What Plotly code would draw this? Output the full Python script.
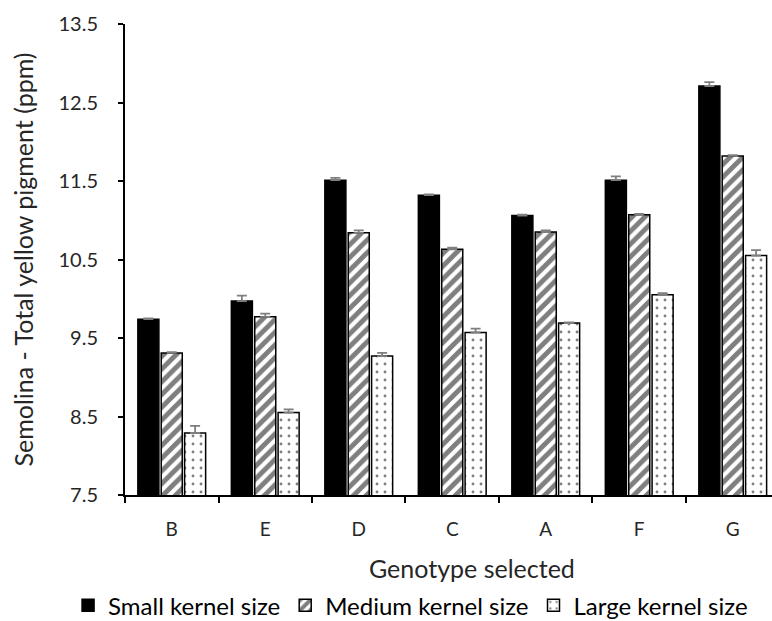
import plotly.graph_objects as go

genotypes = ["B", "E", "D", "C", "A", "F", "G"]
small = [9.74, 9.97, 11.51, 11.32, 11.06, 11.51, 12.71]
small_err = [0.01, 0.07, 0.03, 0.01, 0.01, 0.05, 0.05]
medium = [9.31, 9.77, 10.84, 10.63, 10.85, 11.07, 11.82]
medium_err = [0.01, 0.04, 0.03, 0.02, 0.02, 0.01, 0.01]
large = [8.29, 8.55, 9.27, 9.57, 9.69, 10.05, 10.55]
large_err = [0.09, 0.04, 0.04, 0.05, 0.01, 0.02, 0.07]
series_names = ["Small kernel size", "Medium kernel size", "Large kernel size"]
y_ticks = [7.5, 8.5, 9.5, 10.5, 11.5, 12.5, 13.5]
y_tick_text = ["7.5", "8.5", "9.5", "10.5", "11.5", "12.5", "13.5"]
x_title = "Genotype selected"
y_title = "Semolina - Total yellow pigment (ppm)"

FONT = "Lato, Open Sans, sans-serif"
err_style = dict(color="#7f7f7f", thickness=1.8, width=5)

fig = go.Figure()
fig.add_trace(go.Bar(
    x=genotypes, y=small, name=series_names[0],
    marker=dict(color="black", line=dict(color="black", width=1.5)),
    error_y=dict(type="data", array=small_err, arrayminus=[0]*len(small), symmetric=False, **err_style),
))
fig.add_trace(go.Bar(
    x=genotypes, y=medium, name=series_names[1],
    marker=dict(color="white", line=dict(color="black", width=1.5),
                pattern=dict(shape="/", fgcolor="black", bgcolor="white", size=9, solidity=0.55)),
    error_y=dict(type="data", array=medium_err, arrayminus=[0]*len(medium), symmetric=False, **err_style),
))
fig.add_trace(go.Bar(
    x=genotypes, y=large, name=series_names[2],
    marker=dict(color="white", line=dict(color="black", width=1.5),
                pattern=dict(shape=".", fgcolor="black", bgcolor="white", size=8, solidity=0.1)),
    error_y=dict(type="data", array=large_err, arrayminus=[0]*len(large), symmetric=False, **err_style),
))

fig.update_layout(
    width=772, height=621,
    margin=dict(l=125, r=0, t=24, b=126, autoexpand=False),
    plot_bgcolor="white", paper_bgcolor="white",
    barmode="group", bargap=0.25, bargroupgap=0.1,
    font=dict(family=FONT, color="#262626"),
    showlegend=True,
    legend=dict(orientation="h", x=-0.088, xanchor="left", y=-0.187, yanchor="top",
                font=dict(size=24, family=FONT, color="black"), traceorder="normal",
                itemwidth=30),
    annotations=[dict(text=x_title, xref="paper", yref="paper", x=0.536, y=-0.156,
                      xanchor="center", yanchor="middle", showarrow=False,
                      font=dict(size=25, family=FONT, color="#262626"))],
)
fig.update_xaxes(
    range=[-0.5, 6.42],
    showline=True, linecolor="black", linewidth=2,
    ticks="outside", tickson="boundaries", ticklen=6, tickcolor="black", tickwidth=1.5,
    ticklabelstandoff=16,
    tickfont=dict(size=19, family=FONT, color="#262626"),
    showgrid=False,
)
fig.update_yaxes(
    range=[7.5, 13.5],
    tickvals=y_ticks, ticktext=y_tick_text,
    showline=True, linecolor="black", linewidth=2,
    ticks="outside", ticklen=5, tickcolor="black", tickwidth=1.5,
    ticklabelstandoff=16,
    tickfont=dict(size=20, family=FONT, color="#262626"),
    title=dict(text=y_title, font=dict(size=25, family=FONT, color="#262626"), standoff=18),
    showgrid=False, zeroline=False,
)

fig.write_html("out.html")
